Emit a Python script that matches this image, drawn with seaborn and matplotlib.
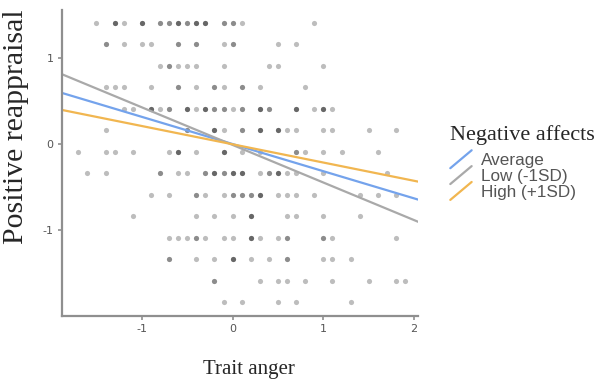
import numpy as np
import pandas as pd
import matplotlib
matplotlib.use("Agg")
import matplotlib.pyplot as plt
import seaborn as sns
from matplotlib.legend_handler import HandlerBase
from matplotlib.lines import Line2D

# scatter: one row of points per reappraisal level, x = trait anger, n = overlapping points
row_y = [1.41, 1.16, 0.91, 0.66, 0.41, 0.16, -0.09, -0.34, -0.59, -0.84, -1.09, -1.34, -1.59, -1.84]
row_x = [
    [-1.5, -1.3, -1.2, -1.0, -0.8, -0.7, -0.6, -0.5, -0.4, -0.3, -0.1, 0.0, 0.1, 0.9],
    [-1.4, -1.2, -1.0, -0.9, -0.6, -0.4, -0.1, 0.0, 0.5, 0.7],
    [-0.8, -0.7, -0.6, -0.5, -0.4, -0.1, 0.4, 0.5, 1.0],
    [-1.4, -1.3, -1.2, -0.9, -0.6, -0.4, -0.2, -0.1, 0.1, 0.3, 0.8],
    [-1.2, -1.1, -0.9, -0.8, -0.7, -0.5, -0.4, -0.3, -0.2, -0.1, 0.0, 0.1, 0.3, 0.4, 0.7, 0.9, 1.0, 1.1],
    [-1.4, -0.5, -0.2, -0.1, 0.1, 0.3, 0.5, 0.6, 0.7, 1.0, 1.1, 1.5, 1.8],
    [-1.7, -1.4, -1.3, -1.1, -0.7, -0.6, -0.4, -0.1, 0.1, 0.3, 0.7, 0.8, 1.0, 1.2, 1.6],
    [-1.6, -1.4, -0.8, -0.6, -0.5, -0.3, -0.2, -0.1, 0.0, 0.1, 0.3, 0.4, 0.5, 0.6, 0.7, 1.0, 1.7],
    [-0.9, -0.7, -0.4, -0.3, -0.1, 0.0, 0.1, 0.2, 0.3, 0.5, 0.6, 0.7, 0.9, 1.4, 1.6, 1.8],
    [-1.1, -0.4, -0.2, 0.0, 0.2, 0.6, 0.7, 1.0, 1.4],
    [-0.7, -0.6, -0.5, -0.4, -0.3, -0.1, 0.0, 0.2, 0.3, 0.5, 0.6, 1.0, 1.1, 1.8],
    [-0.7, -0.4, -0.2, 0.0, 0.2, 0.4, 0.6, 1.0, 1.1, 1.3],
    [-0.2, 0.3, 0.5, 0.6, 0.8, 1.1, 1.5, 1.8, 1.9],
    [-0.1, 0.1, 0.5, 0.7, 1.3],
]
row_n = [
    [1, 3, 1, 3, 2, 2, 3, 2, 3, 3, 2, 2, 1, 1],
    [2, 1, 1, 1, 2, 2, 1, 2, 1, 1],
    [1, 2, 1, 1, 1, 1, 1, 1, 1],
    [1, 1, 1, 1, 2, 1, 2, 1, 2, 1, 1],
    [1, 1, 3, 1, 2, 3, 1, 3, 2, 2, 1, 2, 3, 2, 3, 1, 3, 1],
    [1, 2, 3, 1, 2, 3, 3, 1, 1, 1, 1, 1, 1],
    [1, 1, 1, 1, 1, 3, 1, 3, 1, 1, 2, 1, 1, 1, 1],
    [1, 1, 2, 1, 1, 2, 3, 2, 3, 3, 1, 2, 3, 1, 1, 1, 1],
    [1, 1, 2, 1, 1, 2, 2, 2, 3, 1, 1, 1, 1, 1, 1, 1],
    [1, 1, 1, 1, 3, 1, 1, 1, 1],
    [1, 1, 1, 2, 1, 1, 1, 3, 1, 1, 2, 2, 1, 1],
    [2, 1, 1, 3, 1, 1, 2, 1, 1, 1],
    [2, 1, 1, 1, 1, 1, 1, 1, 1],
    [1, 1, 1, 1, 1],
]

# simple slopes, read at both ends of the x range
groups = ["Average", "Low (-1SD)", "High (+1SD)"]
line_x = [-1.9, 2.1]
line_avg = [0.60, -0.665]
line_low = [0.82, -0.93]
line_high = [0.40, -0.45]
colors = {"Average": "#74a3ec", "Low (-1SD)": "#a9a9a9", "High (+1SD)": "#f1b650"}

xs, ys = [], []
for y, xr, nr in zip(row_y, row_x, row_n):
    xs.extend(np.repeat(xr, nr))
    ys.extend([y] * int(np.sum(nr)))
pts = pd.DataFrame({"x": xs, "y": ys})

lines = pd.DataFrame({
    "x": line_x * 3,
    "y": line_avg + line_low + line_high,
    "group": np.repeat(groups, 2),
})

sns.set_style("white")
plt.rcParams["axes.unicode_minus"] = False
fig = plt.figure(figsize=(6.02, 3.81), dpi=100)
ax = fig.add_axes([0.103, 0.171, 0.591, 0.803])

sns.scatterplot(data=pts, x="x", y="y", color="black", alpha=0.26, s=14,
                linewidth=0, ax=ax)
sns.lineplot(data=lines, x="x", y="y", hue="group", hue_order=groups,
             palette=colors, linewidth=1.6, ax=ax, legend=False)

ax.set_xlim(-1.88, 2.04)
ax.set_ylim(-2.0, 1.56)
ax.set_xticks([-1, 0, 1, 2])
ax.set_yticks([-1, 0, 1])
ax.set_xlabel("")
ax.set_ylabel("")
for side in ["top", "right"]:
    ax.spines[side].set_visible(False)
for side in ["left", "bottom"]:
    ax.spines[side].set_color("#8f8f8f")
    ax.spines[side].set_linewidth(1.6)
ax.tick_params(axis="both", colors="#8f8f8f", length=3, width=1.2,
               labelcolor="#555555", labelsize=8, pad=3, direction="out")
ax.tick_params(bottom=True, left=True)

fig.text(0.414, 0.03, "Trait anger", family="Liberation Serif", fontsize=15,
         ha="center", va="center")
fig.text(0.026, 0.668, "Positive reappraisal", family="Liberation Serif",
         fontsize=21.5, rotation=90, ha="center", va="center")


class DiagHandler(HandlerBase):
    def create_artists(self, legend, orig_handle, xdescent, ydescent,
                       width, height, fontsize, trans):
        ln = Line2D([-xdescent, -xdescent + width],
                    [-ydescent - 0.25 * height, -ydescent + 1.25 * height],
                    color=orig_handle.get_color(), linewidth=1.6,
                    transform=trans)
        return [ln]


handles = [Line2D([], [], color=colors[g]) for g in groups]
leg = fig.legend(handles, groups, loc="upper left", bbox_to_anchor=(0.748, 0.672),
                 frameon=False, handler_map={Line2D: DiagHandler()},
                 handlelength=1.25, handletextpad=0.55, labelspacing=0.05,
                 prop={"family": "Liberation Sans", "size": 12.3},
                 title="Negative affects",
                 title_fontproperties={"family": "Liberation Serif", "size": 16},
                 alignment="left", borderaxespad=0, borderpad=0)
leg._legend_box.sep = 6
for t in leg.get_texts():
    t.set_color("#555555")

fig.savefig("out.png", dpi=100)
